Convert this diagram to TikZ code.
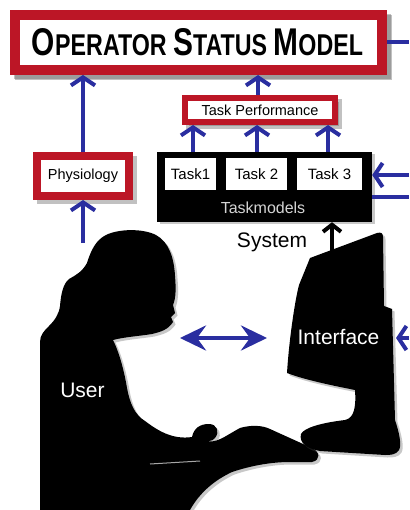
\documentclass[tikz,border=0pt]{standalone}
\usepackage{graphicx}
\usepackage{fontspec}
\setmainfont{Liberation Sans}
\usetikzlibrary{arrows.meta,calc}

\definecolor{osblue}{RGB}{42,46,160}
\definecolor{osred}{RGB}{188,22,38}
\definecolor{tmgray}{RGB}{212,212,212}

\tikzset{
  boxshadow/.style={preaction={draw=black!60, fill=black!60, opacity=.4,
      transform canvas={shift={(#1,-#1)}}}},
  silshadow/.style={preaction={fill=black!70, opacity=.3,
      transform canvas={shift={(2.5pt,-2.5pt)}}}},
  redbox/.style={draw=osred, fill=white, inner sep=0pt, boxshadow=4pt},
  label14/.style={font=\fontsize{14.5}{14.5}\selectfont},
  taskbox/.style={fill=white, inner sep=0pt, minimum height=32pt,
      font=\fontsize{15}{15}\selectfont},
  flow/.style={draw=osblue, line width=4pt,
      -{Straight Barb[length=8pt,width=24pt]}},
  plainflow/.style={draw=osblue, line width=4pt},
  bothflow/.style={draw=osblue, line width=4.5pt,
      {Stealth[length=26pt,width=25pt,inset=9pt]}-{Stealth[length=26pt,width=25pt,inset=9pt]}},
  sysflow/.style={draw=black, line width=4pt,
      -{Straight Barb[length=7pt,width=18pt]}},
  whitetext/.style={text=white, font=\fontsize{21}{21}\selectfont, inner sep=0pt},
}

\newcommand{\osbig}{\fontsize{27}{27}\selectfont}
\newcommand{\ossmall}{\fontsize{21}{21}\selectfont}

\begin{document}
\begin{tikzpicture}[x=1pt, y=-1pt]
  \useasboundingbox (0,0) rectangle (409,510);
  \fill[white] (0,0) rectangle (409,510);

  % ---- title box -------------------------------------------------------
  \node[redbox, line width=10pt, minimum width=367pt, minimum height=55pt,
        boxshadow=5pt] (osm) at (198.5,42.5) {};
  \node[anchor=base, inner sep=0pt] (osmtext) at (197.5,55.5)
    {\resizebox{331pt}{27pt}{\bfseries\osbig O\ossmall PERATOR\ \osbig S\ossmall TATUS\ \osbig M\ossmall ODEL}};

  % ---- measurement boxes ---------------------------------------------
  \node[redbox, line width=8pt, minimum width=92pt, minimum height=40pt,
        label14] (phys) at (83,176) {Physiology};
  \node[redbox, line width=6pt, minimum width=150pt, minimum height=24pt,
        label14] (perf) at (260,110) {Task Performance};

  % ---- task models -----------------------------------------------------
  \node[fill=black, minimum width=215pt, minimum height=70pt, inner sep=0pt,
        silshadow] (tm) at (264.5,187) {};
  \node[taskbox, minimum width=51pt] (t1) at (190.5,174) {Task1};
  \node[taskbox, minimum width=61pt] (t2) at (256.5,174) {Task 2};
  \node[taskbox, minimum width=65pt] (t3) at (329.5,174) {Task 3};
  \node[text=tmgray, font=\fontsize{16}{16}\selectfont, inner sep=0pt]
    (tmlabel) at (263,207.5) {Taskmodels};

  % ---- user silhouette --------------------------------------------------
  \fill[black, silshadow] (40,510) -- (40,342)
    .. controls (40,335) and (44,331) .. (49,326)
    .. controls (55,320) and (59,314) .. (60,306)
    .. controls (61,294) and (63,284) .. (69,279)
    .. controls (76,275) and (82,272) .. (87,263)
    .. controls (91,250) and (96,240) .. (106,235)
    .. controls (118,229) and (142,228) .. (156,235)
    .. controls (169,242) and (174,258) .. (175,276)
    .. controls (176,288) and (176,298) .. (173,305)
    -- (175,313) -- (171,317) -- (173,322)
    .. controls (168,330) and (160,332) .. (152,334)
    .. controls (140,336) and (124,337) .. (113,340)
    .. controls (119,352) and (124,370) .. (127,388)
    .. controls (130,404) and (135,415) .. (145,421)
    .. controls (157,430) and (172,440) .. (192,437)
    .. controls (194,428) and (200,424) .. (209,424)
    .. controls (217,424) and (220,432) .. (215,438)
    .. controls (212,442) and (207,441) .. (205,440)
    .. controls (215,445) and (225,436) .. (240,428)
    .. controls (250,425) and (262,425) .. (270,429)
    -- (312,448)
    .. controls (320,452) and (321,460) .. (312,462)
    -- (290,462)
    .. controls (270,462) and (250,466) .. (232,472)
    .. controls (215,480) and (200,492) .. (190,510)
    -- cycle;
  \draw[black!35, line width=1pt] (150,464) -- (200,461);

  % ---- monitor silhouette -----------------------------------------------
  \fill[black, silshadow] (310,258) -- (377,233)
    .. controls (381,232) and (383,233) .. (383,237)
    -- (384,306) -- (392,309) -- (395,420)
    .. controls (399,432) and (402,445) .. (399,450)
    .. controls (396,455) and (390,455) .. (385,455)
    -- (320,451)
    .. controls (305,448) and (299,442) .. (301,434)
    .. controls (304,428) and (320,423) .. (345,420)
    .. controls (355,418) and (356,405) .. (355,390)
    .. controls (335,386) and (305,380) .. (287,373)
    .. controls (289,340) and (295,300) .. (299,285)
    -- cycle;

  % ---- text on the silhouettes ---------------------------------------------
  \node[whitetext] (user) at (82.5,390.5) {User};
  \node[whitetext] (iface) at (338.5,337.5) {Interface};
  \node[font=\fontsize{21}{21}\selectfont, inner sep=0pt] (sys) at (272,242.5) {System};

  % ---- free ends of connectors -------------------------------------------
  \coordinate (physin) at (83,243);
  \coordinate (rosm)   at (409,42);
  \coordinate (rtmin)  at (409,175);
  \coordinate (rtmout) at (409,197);
  \coordinate (rif)    at (409,338);
  \coordinate (monR)   at (396,338);
  \coordinate (userR)  at (180,338);
  \coordinate (monL)   at (267,338);
  \coordinate (sysfoot) at (332,251);

  % ---- connectors -------------------------------------------------------
  \draw[flow] (physin) -- (phys.south);
  \draw[flow] (phys.north) -- (osm.south -| phys.north);
  \draw[flow] (perf.north -| 258,0) -- (osm.south -| 258,0);
  \draw[flow] (tm.north -| 193,0) -- (perf.south -| 193,0);
  \draw[flow] (tm.north -| 257,0) -- (perf.south -| 257,0);
  \draw[flow] (tm.north -| 328,0) -- (perf.south -| 328,0);
  \draw[plainflow] (osm.east |- rosm) -- (rosm);
  \draw[flow] (rtmin) -- (tm.east |- rtmin);
  \draw[plainflow] (tm.east |- rtmout) -- (rtmout);
  \draw[flow] (rif) -- (monR);
  \draw[bothflow] (userR) -- (monL);
  \draw[sysflow] (sysfoot) -- (tm.south -| sysfoot);
\end{tikzpicture}
\end{document}
